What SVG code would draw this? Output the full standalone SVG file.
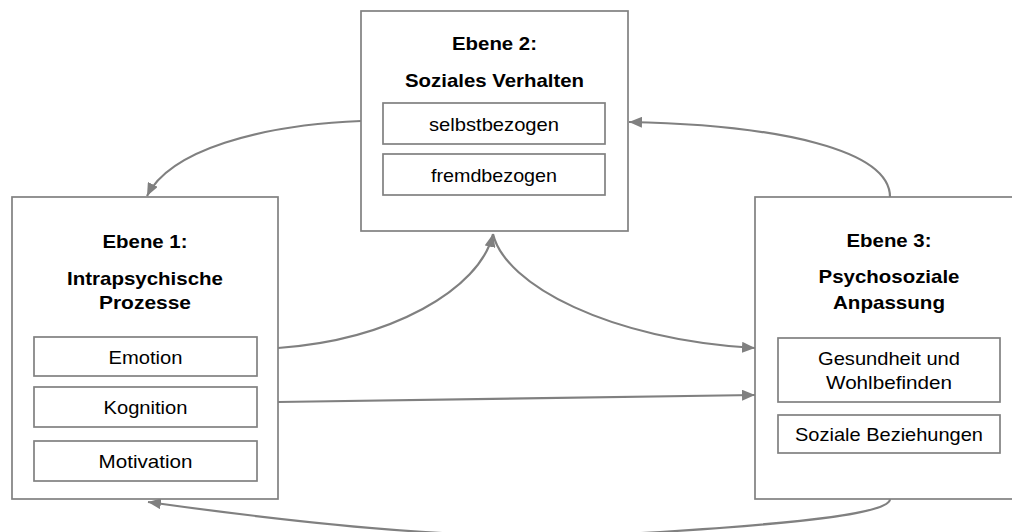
<svg xmlns="http://www.w3.org/2000/svg" width="1012" height="532" viewBox="0 0 1012 532">
<style>
.box{fill:#fff;stroke:#808080;stroke-width:1.7}
.sub{fill:#fff;stroke:#808080;stroke-width:1.7}
.t{font-family:"Liberation Sans",Arial,sans-serif;font-size:18.5px;fill:#000;text-anchor:middle}
.b{font-weight:bold}
.c{fill:none;stroke:#808080;stroke-width:2.2}
</style>
<defs>
<marker id="ah" markerUnits="userSpaceOnUse" markerWidth="13" markerHeight="11" refX="13" refY="5.5" orient="auto">
<path d="M0,0 L13,5.5 L0,11 Z" fill="#808080"/>
</marker>
</defs>
<g id="connectors">
<path class="c" d="M361,121 C260,125 170,150 147,196" marker-end="url(#ah)"/>
<path class="c" d="M890,197 C890,150 780,125 629,122" marker-end="url(#ah)"/>
<path class="c" d="M278,348 C390,340 480,290 493,234" marker-end="url(#ah)"/>
<path class="c" d="M493,234 C505,285 610,340 755,348" marker-end="url(#ah)"/>
<path class="c" d="M278,402 L755,395" marker-end="url(#ah)"/>
<path class="c" d="M890,499 C890,512 820,522 660,532 C540,539.5 420,540 148,502" marker-end="url(#ah)"/>
</g>
<g id="ebene2">
<rect class="box" x="361" y="11" width="267" height="220"/>
<text class="t b" x="494.5" y="50" textLength="85" lengthAdjust="spacingAndGlyphs">Ebene 2:</text>
<text class="t b" x="494.5" y="87" textLength="179" lengthAdjust="spacingAndGlyphs">Soziales Verhalten</text>
<rect class="sub" x="383" y="103" width="222" height="41"/>
<text class="t" x="494" y="131" textLength="130" lengthAdjust="spacingAndGlyphs">selbstbezogen</text>
<rect class="sub" x="383" y="154" width="222" height="41"/>
<text class="t" x="494" y="182" textLength="126" lengthAdjust="spacingAndGlyphs">fremdbezogen</text>
</g>
<g id="ebene1">
<rect class="box" x="12" y="197" width="266" height="302"/>
<text class="t b" x="145" y="248" textLength="85" lengthAdjust="spacingAndGlyphs">Ebene 1:</text>
<text class="t b" x="145" y="285" textLength="156" lengthAdjust="spacingAndGlyphs">Intrapsychische</text>
<text class="t b" x="145" y="309" textLength="92" lengthAdjust="spacingAndGlyphs">Prozesse</text>
<rect class="sub" x="34" y="337" width="223" height="39"/>
<text class="t" x="145.5" y="364" textLength="74" lengthAdjust="spacingAndGlyphs">Emotion</text>
<rect class="sub" x="34" y="387" width="223" height="40"/>
<text class="t" x="145.5" y="414" textLength="84" lengthAdjust="spacingAndGlyphs">Kognition</text>
<rect class="sub" x="34" y="441" width="223" height="40"/>
<text class="t" x="145.5" y="468" textLength="94" lengthAdjust="spacingAndGlyphs">Motivation</text>
</g>
<g id="ebene3">
<rect class="box" x="755" y="197" width="262" height="302"/>
<text class="t b" x="889" y="247" textLength="85" lengthAdjust="spacingAndGlyphs">Ebene 3:</text>
<text class="t b" x="889" y="283" textLength="141" lengthAdjust="spacingAndGlyphs">Psychosoziale</text>
<text class="t b" x="889" y="309" textLength="112" lengthAdjust="spacingAndGlyphs">Anpassung</text>
<rect class="sub" x="778" y="338" width="222" height="64"/>
<text class="t" x="889" y="365" textLength="142" lengthAdjust="spacingAndGlyphs">Gesundheit und</text>
<text class="t" x="889" y="389" textLength="126" lengthAdjust="spacingAndGlyphs">Wohlbefinden</text>
<rect class="sub" x="778" y="415" width="222" height="38"/>
<text class="t" x="889" y="441" textLength="188" lengthAdjust="spacingAndGlyphs">Soziale Beziehungen</text>
</g>
</svg>
